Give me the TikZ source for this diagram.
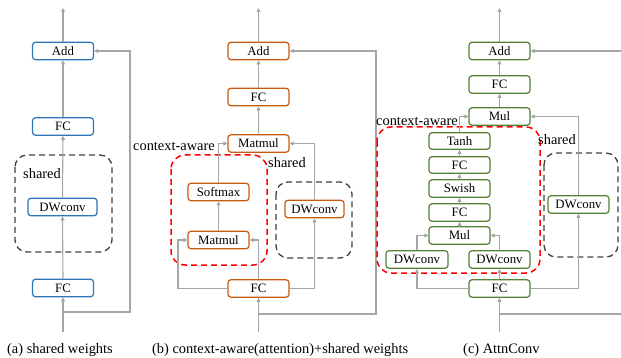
\documentclass[tikz,border=0pt]{standalone}
\usepackage{fontspec}
\setmainfont{Liberation Serif}
\usetikzlibrary{arrows.meta}
\definecolor{cblue}{HTML}{2E75B6}
\definecolor{corange}{HTML}{C55A11}
\definecolor{cgreen}{HTML}{548235}
\definecolor{carrow}{HTML}{A6A6A6}
\definecolor{cdash}{HTML}{404040}
\definecolor{cred}{HTML}{FF0000}
\tikzset{
  box/.style={draw, rounded corners=3pt, line width=1.2pt, fill=white, inner sep=0pt,
    minimum width=61pt, minimum height=17.5pt, font=\fontsize{12.8}{13}\selectfont},
  bbox/.style={box, draw=cblue},
  obox/.style={box, draw=corange},
  gbox/.style={box, draw=cgreen},
  arr/.style={draw=carrow, line width=1.1pt, -{Triangle[length=4pt,width=4pt]}},
  ln/.style={draw=carrow, line width=1.1pt},
  sharedbox/.style={draw=cdash, line width=1.3pt, dash pattern=on 6pt off 4pt, rounded corners=12pt},
  ctxbox/.style={draw=cred, line width=1.5pt, dash pattern=on 6pt off 4pt, rounded corners=14pt},
  lbl/.style={inner sep=0pt, font=\fontsize{14.4}{15}\selectfont},
}
\begin{document}
\begin{tikzpicture}[x=1pt,y=-1pt]
\useasboundingbox (0,0) rectangle (621,358);

% ---------------- panel (a) ----------------
\draw[sharedbox] (15,155) rectangle (112,252);
\node[lbl, anchor=west] (shA) at (23,174) {shared};
\node[bbox] (addA) at (63,51) {Add};
\node[bbox] (fc2A) at (63,126.5) {FC};
\node[bbox, minimum width=69pt] (dwA) at (62.5,207) {DWconv};
\node[bbox] (fc1A) at (63,288) {FC};
\coordinate (inA) at (63,332);
\coordinate (brA) at (63,312);
\coordinate (rA) at (130,312);
\coordinate (outA) at (63,8);
\draw[arr] (inA) -- (fc1A.south);
\draw[arr] (fc1A.north) -- (dwA.south);
\draw[arr] (dwA.north) -- (fc2A.south);
\draw[arr] (fc2A.north) -- (addA.south);
\draw[arr] (addA.north) -- (outA);
\draw[arr] (brA) -- (rA) |- (addA.east);
\node[lbl, anchor=west] (capA) at (7,350) {(a) shared weights};

% ---------------- panel (b) ----------------
\draw[ctxbox] (171,155) rectangle (267,265);
\draw[sharedbox] (276,182) rectangle (352,258);
\node[lbl, anchor=west] (ctxB) at (133,147) {context-aware};
\node[lbl, anchor=west] (shB) at (268,163) {shared};
\node[obox] (addB) at (258.5,51) {Add};
\node[obox] (fc2B) at (258.5,97) {FC};
\node[obox] (mm2B) at (258.5,143.5) {Matmul};
\node[obox] (smB) at (218.5,192) {Softmax};
\node[obox] (mm1B) at (218.5,240) {Matmul};
\node[obox, minimum width=59pt] (dwB) at (314.5,209) {DWconv};
\node[obox] (fc1B) at (258.5,288.5) {FC};
\coordinate (inB) at (258.5,332);
\coordinate (brB) at (258.5,314);
\coordinate (rB) at (376,314);
\coordinate (outB) at (258.5,8);
\coordinate (lB) at (178,288.5);
\coordinate (cB) at (258.5,240);
\draw[arr] (inB) -- (fc1B.south);
\draw[arr] (fc1B.west) -- (lB) |- (mm1B.west);
\draw[arr] (fc1B.north) -- (cB) -- (mm1B.east);
\draw[arr] (fc1B.east) -| (dwB.south);
\draw[arr] (dwB.north) |- (mm2B.east);
\draw[arr] (mm1B.north) -- (smB.south);
\draw[arr] (smB.north) |- (mm2B.west);
\draw[arr] (mm2B.north) -- (fc2B.south);
\draw[arr] (fc2B.north) -- (addB.south);
\draw[arr] (addB.north) -- (outB);
\draw[arr] (brB) -- (rB) |- (addB.east);
\node[lbl, anchor=west] (capB) at (152,350) {(b) context-aware(attention)+shared weights};

% ---------------- panel (c) ----------------
\draw[ctxbox] (377,127) rectangle (540,273);
\draw[sharedbox] (544,153) rectangle (618,257);
\node[lbl, anchor=west] (ctxC) at (376,122) {context-aware};
\node[lbl, anchor=west] (shC) at (538,140) {shared};
\node[gbox] (addC) at (499.5,51) {Add};
\node[gbox] (fc2C) at (499.5,84.5) {FC};
\node[gbox] (mul2C) at (499.5,116.5) {Mul};
\node[gbox, minimum height=16.5pt] (tanhC) at (459.5,141) {Tanh};
\node[gbox, minimum height=16.5pt] (fcbC) at (459.5,165) {FC};
\node[gbox] (swishC) at (459.5,188.5) {Swish};
\node[gbox] (fcaC) at (459.5,212.5) {FC};
\node[gbox] (mul1C) at (459.5,235.5) {Mul};
\node[gbox, minimum width=62pt] (dwLC) at (417,259.5) {DWconv};
\node[gbox] (dwRC) at (499.5,259.5) {DWconv};
\node[gbox] (dwSC) at (578.5,204.5) {DWconv};
\node[gbox] (fc1C) at (499.5,288.5) {FC};
\coordinate (inC) at (499.5,332);
\coordinate (brC) at (499.5,314);
\coordinate (rC) at (621,314);
\coordinate (rtC) at (621,51);
\coordinate (outC) at (499.5,8);
\draw[arr] (inC) -- (fc1C.south);
\draw[arr] (fc1C.west) -| (dwLC.south);
\draw[arr] (dwLC.north) |- (mul1C.west);
\draw[arr] (fc1C.north) -- (dwRC.south);
\draw[arr] (dwRC.north) |- (mul1C.east);
\draw[arr] (mul1C.north) -- (fcaC.south);
\draw[arr] (fcaC.north) -- (swishC.south);
\draw[arr] (swishC.north) -- (fcbC.south);
\draw[arr] (fcbC.north) -- (tanhC.south);
\draw[arr] (tanhC.north) |- (mul2C.west);
\draw[arr] (fc1C.east) -| (dwSC.south);
\draw[arr] (dwSC.north) |- (mul2C.east);
\draw[arr] (mul2C.north) -- (fc2C.south);
\draw[arr] (fc2C.north) -- (addC.south);
\draw[arr] (addC.north) -- (outC);
\draw[ln] (brC) -- (rC);
\draw[arr] (rtC) -- (addC.east);
\node[lbl, anchor=west] (capC) at (463,350) {(c) AttnConv};
\end{tikzpicture}
\end{document}
